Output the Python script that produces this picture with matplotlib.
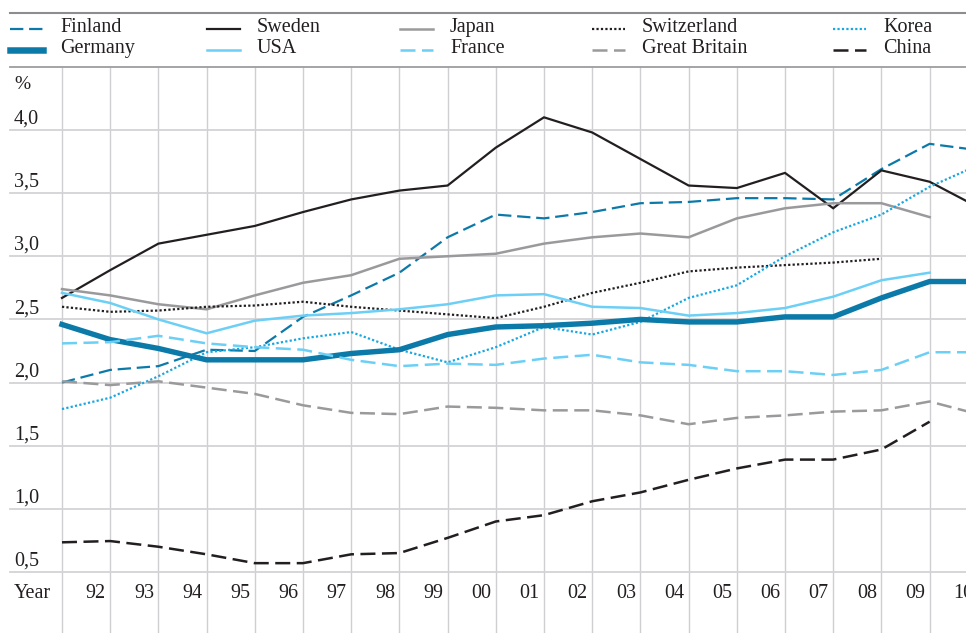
import numpy as np
import matplotlib.pyplot as plt
from matplotlib.lines import Line2D

plt.rcParams['font.family'] = ['Liberation Serif', 'DejaVu Serif']

years = list(range(1991, 2011))

finland = [2.00, 2.10, 2.13, 2.26, 2.25, 2.52, 2.69, 2.87, 3.15, 3.33,
           3.30, 3.35, 3.42, 3.43, 3.46, 3.46, 3.45, 3.69, 3.89, 3.84]
sweden = [2.67, 2.89, 3.10, 3.17, 3.24, 3.35, 3.45, 3.52, 3.56, 3.86,
          4.10, 3.98, 3.77, 3.56, 3.54, 3.66, 3.38, 3.68, 3.59, 3.39]
japan = [2.74, 2.69, 2.62, 2.58, 2.69, 2.79, 2.85, 2.98, 3.00, 3.02,
         3.10, 3.15, 3.18, 3.15, 3.30, 3.38, 3.42, 3.42, 3.31]
switzerland = [2.60, 2.56, 2.57, 2.60, 2.61, 2.64, 2.60, 2.57, 2.54, 2.51,
               2.60, 2.71, 2.79, 2.88, 2.91, 2.93, 2.95, 2.98]
korea = [1.79, 1.88, 2.05, 2.24, 2.28, 2.35, 2.40, 2.26, 2.16, 2.28,
         2.44, 2.38, 2.48, 2.67, 2.77, 3.00, 3.19, 3.33, 3.55, 3.72]
germany = [2.46, 2.34, 2.27, 2.18, 2.18, 2.18, 2.23, 2.26, 2.38, 2.44,
           2.45, 2.47, 2.50, 2.48, 2.48, 2.52, 2.52, 2.67, 2.80, 2.80]
usa = [2.71, 2.63, 2.50, 2.39, 2.49, 2.53, 2.55, 2.58, 2.62, 2.69,
       2.70, 2.60, 2.59, 2.53, 2.55, 2.59, 2.68, 2.81, 2.87]
france = [2.31, 2.32, 2.37, 2.31, 2.28, 2.26, 2.18, 2.13, 2.15, 2.14,
          2.19, 2.22, 2.16, 2.14, 2.09, 2.09, 2.06, 2.10, 2.24, 2.24]
great_britain = [2.01, 1.98, 2.01, 1.96, 1.91, 1.82, 1.76, 1.75, 1.81, 1.80,
                 1.78, 1.78, 1.74, 1.67, 1.72, 1.74, 1.77, 1.78, 1.85, 1.75]
china = [0.735, 0.745, 0.70, 0.64, 0.57, 0.57, 0.64, 0.65, 0.77, 0.90,
         0.95, 1.06, 1.13, 1.23, 1.32, 1.39, 1.39, 1.47, 1.69]

y_ticks = [0.5, 1.0, 1.5, 2.0, 2.5, 3.0, 3.5, 4.0]
y_labels = ["0,5", "1,0", "1,5", "2,0", "2,5", "3,0", "3,5", "4,0"]
x_labels = ["92", "93", "94", "95", "96", "97", "98", "99", "00", "01",
            "02", "03", "04", "05", "06", "07", "08", "09", "10"]

DARK_BLUE = "#0b7aa9"
LIGHT_BLUE = "#6ccff6"
KOREA_BLUE = "#17a8e3"
GREY = "#9a9a9c"
BLACK = "#231f20"

# name, values, colour, width, dash pattern (None = solid)
series = [
    ("Finland", finland, DARK_BLUE, 1.6, (6, 2.6)),
    ("Sweden", sweden, BLACK, 1.6, None),
    ("Japan", japan, GREY, 1.8, None),
    ("Switzerland", switzerland, BLACK, 1.6, (1, 1)),
    ("Korea", korea, KOREA_BLUE, 1.6, (1, 1)),
    ("Germany", germany, DARK_BLUE, 3.9, None),
    ("USA", usa, LIGHT_BLUE, 1.8, None),
    ("France", france, LIGHT_BLUE, 1.8, (6, 2.6)),
    ("Great Britain", great_britain, GREY, 1.8, (6, 2.6)),
    ("China", china, BLACK, 1.8, (6, 2.6)),
]

fig = plt.figure(figsize=(9.66, 6.33), dpi=100)
ax = fig.add_axes([0, 0, 1, 1])
ax.set_xlim(1989.714, 2009.755)
ax.set_ylim(0.017, 5.029)
ax.axis("off")

# grid
ylo, yhi = ax.get_ylim()
top_frac = (4.5 - ylo) / (yhi - ylo)
for yr in years:
    ax.axvline(yr, ymin=0, ymax=top_frac, color="#cfcfd1", lw=1.0, zorder=0)
for v in y_ticks:
    ax.axhline(v, xmin=10 / 966, xmax=1, color="#d3d3d5", lw=1.3, zorder=0)
ax.axhline(4.5, xmin=10 / 966, xmax=1, color="#9d9d9f", lw=1.3, zorder=0)
fig.add_artist(Line2D([10 / 966, 1], [1 - 13 / 633, 1 - 13 / 633],
                      color="#8d8d8f", lw=1.5))

# data lines
for name, vals, col, lw, dash in series:
    ln, = ax.plot(years[:len(vals)], vals, color=col, lw=lw,
                  solid_joinstyle="miter", zorder=3)
    if dash is not None:
        ln.set_dashes(dash)
        ln.set_dash_capstyle("butt")

# y tick labels sit on top of their gridline
for v, lab in zip(y_ticks, y_labels):
    ax.text(14 / 966, v + 0.01, lab, transform=ax.get_yaxis_transform(),
            ha="left", va="bottom", fontsize=14.5, color=BLACK)
ax.text(14 / 966, 4.36, "%", transform=ax.get_yaxis_transform(),
        ha="left", va="center", fontsize=14, color=BLACK)

# year labels right-aligned against their gridline
ax.text(14 / 966, 0.33, "Year", transform=ax.get_yaxis_transform(),
        ha="left", va="center", fontsize=14.5, color=BLACK)
for yr, lab in zip(years[1:], x_labels):
    ax.text(yr - 0.09, 0.33, lab, ha="right", va="center",
            fontsize=14.5, color=BLACK, clip_on=False)

# legend, drawn by hand in two rows of five
col_x = [10, 207, 400, 592, 833]
row_y = [29, 50]
for i, (name, vals, col, lw, dash) in enumerate(series):
    cx = col_x[i % 5]
    ry = row_y[i // 5]
    yf = 1 - ry / 633
    h = Line2D([cx / 966, (cx + 33) / 966], [yf, yf], color=col,
               lw=lw * 1.2 if lw > 3 else lw, transform=fig.transFigure)
    if dash is not None:
        h.set_dashes(dash)
        h.set_dash_capstyle("butt")
    fig.add_artist(h)
    fig.text((cx + 50) / 966, yf + 0.002, name, ha="left", va="center",
             fontsize=14.5, color=BLACK)

fig.savefig("out.png", dpi=100)
